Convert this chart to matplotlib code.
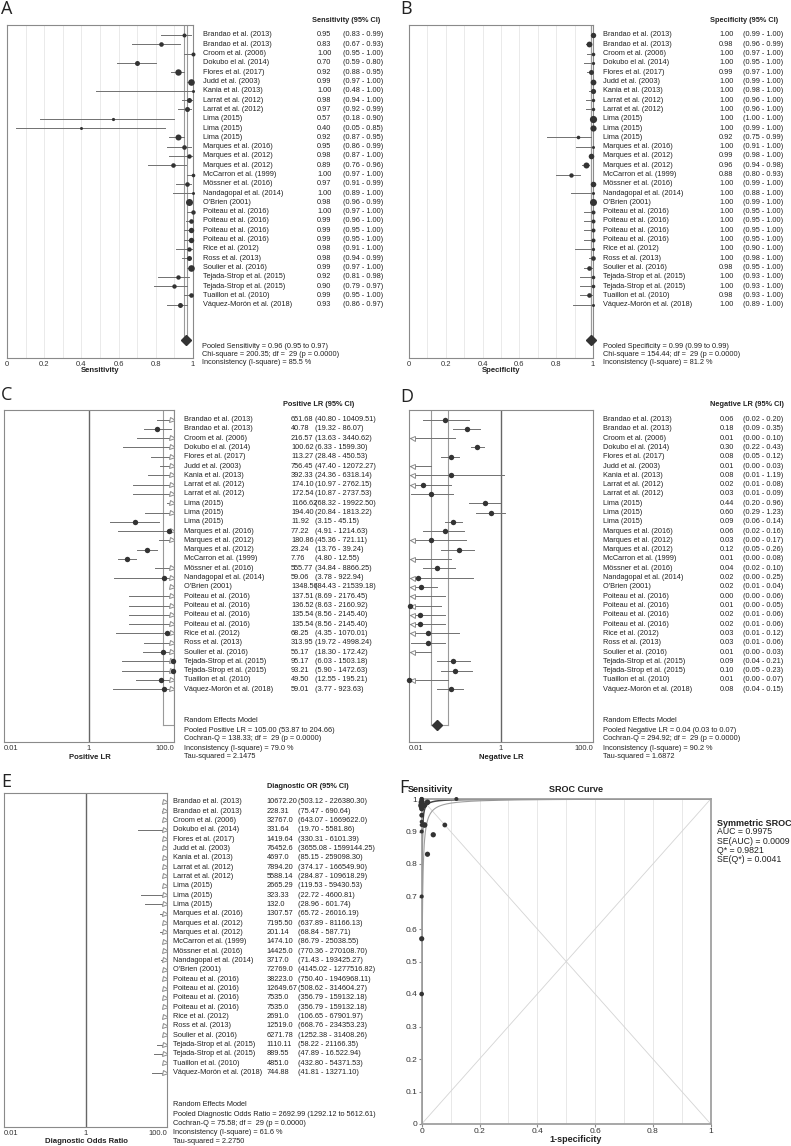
import numpy as np
import matplotlib
matplotlib.use('Agg')
import matplotlib.pyplot as plt
from matplotlib.ticker import NullLocator

plt.rcParams['font.family'] = ['Liberation Sans', 'DejaVu Sans']

#%% data

studies = ['Brandao et al. (2013)', 'Brandao et al. (2013)', 'Croom et al. (2006)',
           'Dokubo el al. (2014)', 'Flores et al. (2017)', 'Judd et al. (2003)',
           'Kania et al. (2013)', 'Larrat et al. (2012)', 'Larrat et al. (2012)',
           'Lima (2015)', 'Lima (2015)', 'Lima (2015)', 'Marques et al. (2016)',
           'Marques et al. (2012)', 'Marques et al. (2012)', 'McCarron et al. (1999)',
           'Mössner et al. (2016)', 'Nandagopal et al. (2014)', "O'Brien (2001)",
           'Poiteau et al. (2016)', 'Poiteau et al. (2016)', 'Poiteau et al. (2016)',
           'Poiteau et al. (2016)', 'Rice et al. (2012)', 'Ross et al. (2013)',
           'Soulier et al. (2016)', 'Tejada-Strop et al. (2015)',
           'Tejada-Strop et al. (2015)', 'Tuaillon et al. (2010)',
           'Váquez-Morón et al. (2018)']

sens = [0.95, 0.83, 1.00, 0.70, 0.92, 0.99, 1.00, 0.98, 0.97, 0.57, 0.40, 0.92, 0.95, 0.98, 0.89,
        1.00, 0.97, 1.00, 0.98, 1.00, 0.99, 0.99, 0.99, 0.98, 0.98, 0.99, 0.92, 0.90, 0.99, 0.93]
sens_lo = [0.83, 0.67, 0.95, 0.59, 0.88, 0.97, 0.48, 0.94, 0.92, 0.18, 0.05, 0.87, 0.86, 0.87, 0.76,
           0.97, 0.91, 0.89, 0.96, 0.97, 0.96, 0.95, 0.95, 0.91, 0.94, 0.97, 0.81, 0.79, 0.95, 0.86]
sens_hi = [0.99, 0.93, 1.00, 0.80, 0.95, 1.00, 1.00, 1.00, 0.99, 0.90, 0.85, 0.95, 0.99, 1.00, 0.96,
           1.00, 0.99, 1.00, 0.99, 1.00, 1.00, 1.00, 1.00, 1.00, 0.99, 1.00, 0.98, 0.97, 1.00, 0.97]

spec = [1.00, 0.98, 1.00, 1.00, 0.99, 1.00, 1.00, 1.00, 1.00, 1.00, 1.00, 0.92, 1.00, 0.99, 0.96,
        0.88, 1.00, 1.00, 1.00, 1.00, 1.00, 1.00, 1.00, 1.00, 1.00, 0.98, 1.00, 1.00, 0.98, 1.00]
spec_lo = [0.99, 0.96, 0.97, 0.95, 0.97, 0.99, 0.98, 0.96, 0.96, 1.00, 0.99, 0.75, 0.91, 0.98, 0.94,
           0.80, 0.99, 0.88, 0.99, 0.95, 0.95, 0.95, 0.95, 0.90, 0.98, 0.95, 0.93, 0.93, 0.93, 0.89]
spec_hi = [1.00, 0.99, 1.00, 1.00, 1.00, 1.00, 1.00, 1.00, 1.00, 1.00, 1.00, 0.99, 1.00, 1.00, 0.98,
           0.93, 1.00, 1.00, 1.00, 1.00, 1.00, 1.00, 1.00, 1.00, 1.00, 1.00, 1.00, 1.00, 1.00, 1.00]

plr = [651.68, 40.78, 216.57, 100.62, 113.27, 756.45, 392.33, 174.10, 172.54, 1166.62, 194.40,
       11.92, 77.22, 180.86, 23.24, 7.76, 555.77, 59.06, 1348.56, 137.51, 136.52, 135.54, 135.54,
       68.25, 313.95, 56.17, 95.17, 93.21, 49.50, 59.01]
plr_lo = [40.80, 19.32, 13.63, 6.33, 28.48, 47.40, 24.36, 10.97, 10.87, 68.32, 20.84, 3.15, 4.91,
          45.36, 13.76, 4.80, 34.84, 3.78, 84.43, 8.69, 8.63, 8.56, 8.56, 4.35, 19.72, 18.30, 6.03,
          5.90, 12.55, 3.77]
plr_hi = [10409.51, 86.07, 3440.62, 1599.30, 450.53, 12072.27, 6318.14, 2762.15, 2737.53,
          19922.50, 1813.22, 45.15, 1214.63, 721.11, 39.24, 12.55, 8866.25, 922.94, 21539.18,
          2176.45, 2160.92, 2145.40, 2145.40, 1070.01, 4998.24, 172.42, 1503.18, 1472.63, 195.21,
          923.63]

nlr = [0.06, 0.18, 0.008, 0.30, 0.08, 0.007, 0.08, 0.02, 0.03, 0.44, 0.60, 0.09, 0.06, 0.03, 0.12,
       0.008, 0.04, 0.016, 0.018, 0.004, 0.0105, 0.017, 0.017, 0.026, 0.026, 0.008, 0.09, 0.10,
       0.0102, 0.08]
nlr_lo = [0.02, 0.09, 0.004, 0.22, 0.05, 0.004, 0.006, 0.006, 0.011, 0.20, 0.29, 0.06, 0.02, 0.004,
          0.05, 0.004, 0.02, 0.004, 0.007, 0.004, 0.004, 0.007, 0.007, 0.007, 0.011, 0.004, 0.04,
          0.05, 0.004, 0.04]
nlr_hi = [0.20, 0.35, 0.10, 0.43, 0.12, 0.03, 1.19, 0.08, 0.09, 0.96, 1.23, 0.14, 0.16, 0.17, 0.26,
          0.08, 0.10, 0.25, 0.04, 0.06, 0.05, 0.06, 0.06, 0.12, 0.06, 0.03, 0.21, 0.23, 0.07, 0.15]

dor_txt = ['10672.20', '228.31', '32767.0', '331.64', '1419.64', '76452.6', '4697.0', '7894.20',
           '5588.14', '2665.29', '323.33', '132.0', '1307.57', '7195.50', '201.14', '1474.10',
           '14425.0', '3717.0', '72769.0', '38223.0', '12649.67', '7535.0', '7535.0', '2691.0',
           '12519.0', '6271.78', '1110.11', '889.55', '4851.0', '744.88']
dor_ci_txt = ['(503.12 - 226380.30)', '(75.47 - 690.64)', '(643.07 - 1669622.0)',
              '(19.70 - 5581.86)', '(330.31 - 6101.39)', '(3655.08 - 1599144.25)',
              '(85.15 - 259098.30)', '(374.17 - 166549.90)', '(284.87 - 109618.29)',
              '(119.53 - 59430.53)', '(22.72 - 4600.81)', '(28.96 - 601.74)',
              '(65.72 - 26016.19)', '(637.89 - 81166.13)', '(68.84 - 587.71)',
              '(86.79 - 25038.55)', '(770.36 - 270108.70)', '(71.43 - 193425.27)',
              '(4145.02 - 1277516.82)', '(750.40 - 1946968.11)', '(508.62 - 314604.27)',
              '(356.79 - 159132.18)', '(356.79 - 159132.18)', '(106.65 - 67901.97)',
              '(668.76 - 234353.23)', '(1252.38 - 31408.26)', '(58.22 - 21166.35)',
              '(47.89 - 16.522.94)', '(432.80 - 54371.53)', '(41.81 - 13271.10)']
dor_lo = [503.12, 75.47, 643.07, 19.70, 330.31, 3655.08, 85.15, 374.17, 284.87, 119.53, 22.72,
          28.96, 65.72, 637.89, 68.84, 86.79, 770.36, 71.43, 4145.02, 750.40, 508.62, 356.79,
          356.79, 106.65, 668.76, 1252.38, 58.22, 47.89, 432.80, 41.81]
dor_hi = [226380.30, 690.64, 1669622.0, 5581.86, 6101.39, 1599144.25, 259098.30, 166549.90,
          109618.29, 59430.53, 4600.81, 601.74, 26016.19, 81166.13, 587.71, 25038.55, 270108.70,
          193425.27, 1277516.82, 1946968.11, 314604.27, 159132.18, 159132.18, 67901.97, 234353.23,
          31408.26, 21166.35, 16522.94, 54371.53, 13271.10]

pool_sens = [0.96, 0.95, 0.97]
pool_spec = [0.99, 0.99, 0.99]
pool_plr = [105.00, 53.87, 204.66]
pool_nlr = [0.04, 0.03, 0.07]
pool_dor = [2692.99, 1292.12, 5612.61]

stats_sens = ['Pooled Sensitivity = 0.96 (0.95 to 0.97)',
              'Chi-square = 200.35; df =  29 (p = 0.0000)',
              'Inconsistency (I-square) = 85.5 %']
stats_spec = ['Pooled Specificity = 0.99 (0.99 to 0.99)',
              'Chi-square = 154.44; df =  29 (p = 0.0000)',
              'Inconsistency (I-square) = 81.2 %']
stats_plr = ['Random Effects Model', 'Pooled Positive LR = 105.00 (53.87 to 204.66)',
             'Cochran-Q = 138.33; df =  29 (p = 0.0000)', 'Inconsistency (I-square) = 79.0 %',
             'Tau-squared = 2.1475']
stats_nlr = ['Random Effects Model', 'Pooled Negative LR = 0.04 (0.03 to 0.07)',
             'Cochran-Q = 294.92; df =  29 (p = 0.0000)', 'Inconsistency (I-square) = 90.2 %',
             'Tau-squared = 1.6872']
stats_dor = ['Random Effects Model',
             'Pooled Diagnostic Odds Ratio = 2692.99 (1292.12 to 5612.61)',
             'Cochran-Q = 75.58; df =  29 (p = 0.0000)', 'Inconsistency (I-square) = 61.6 %',
             'Tau-squared = 2.2750']

q_star = 0.9821
band_dor = 690
sroc_txt = ['AUC = 0.9975', 'SE(AUC) = 0.0009', 'Q* = 0.9821', 'SE(Q*) = 0.0041']

# dot radii (px)
sens_r = [2.0, 2.3, 2.0, 2.5, 3.2, 3.3, 1.5, 2.5, 2.5, 1.6, 1.5, 3.0, 2.3, 2.2, 2.3,
          1.8, 2.3, 1.5, 3.5, 2.2, 2.3, 2.7, 2.7, 2.2, 2.5, 3.3, 2.2, 2.2, 2.3, 2.5]
spec_r = [2.7, 2.9, 1.8, 1.6, 2.5, 2.9, 2.6, 1.7, 1.7, 3.6, 3.1, 1.8, 1.5, 2.8, 3.0,
          2.2, 2.8, 1.5, 3.5, 2.0, 2.0, 2.0, 2.0, 1.6, 2.3, 2.3, 1.8, 1.8, 2.3, 1.5]

#%% figure

W, H = 791, 1146
fig = plt.figure(figsize=(W / 100, H / 100), dpi=100)
TXT = '#222222'
FS = 5.3


def px_axes(x0, y0, x1, y1):
    return fig.add_axes([x0 / W, 1 - y1 / H, (x1 - x0) / W, (y1 - y0) / H])


def ftext(x, y, s, **kw):
    kw.setdefault('fontsize', FS)
    kw.setdefault('va', 'center')
    kw.setdefault('color', TXT)
    fig.text(x / W, 1 - y / H, s, **kw)


def forest(x0, x1, top, bottom, row0, sp, est, lo, hi, lim, logx, radius, pooled):
    ax = px_axes(x0, top, x1, bottom)
    ytop = (top - row0) / sp
    ax.set_ylim((bottom - row0) / sp, ytop)
    xmin, xmax = lim
    if logx:
        ax.set_xscale('log')
    ax.set_xlim(xmin, xmax)
    for s in ax.spines.values():
        s.set_color('#8a8a8a')
        s.set_linewidth(0.8)
    ax.set_yticks([])
    n = len(est)
    for i in range(n):
        a = max(lo[i], xmin)
        b = min(hi[i], xmax)
        if a < b:
            ax.plot([a, b], [i, i], color='#707070', lw=0.7, zorder=2)
        if xmin <= est[i] <= xmax:
            r = radius[i] if np.ndim(radius) else radius
            ax.plot(est[i], i, 'o', ms=2 * r * 0.72, color='#333333', mec='none',
                    zorder=4, clip_on=False)
        if logx and hi[i] > xmax:
            ax.plot(xmax / 10 ** 0.055, i, '>', ms=3.6, mfc='white', mec='#8a8a8a',
                    mew=0.7, zorder=3)
        if logx and lo[i] < xmin:
            ax.plot(xmin * 10 ** 0.055, i, '<', ms=3.6, mfc='white', mec='#8a8a8a',
                    mew=0.7, zorder=3)
    # pooled box and diamond
    prow = 32.8
    p_est, p_lo, p_hi = pooled
    a = max(p_lo, xmin)
    b = min(p_hi, xmax)
    if a <= b:
        for v in (a, b):
            ax.plot([v, v], [ytop, prow], color='#9a9a9a', lw=0.8, zorder=1)
        ax.plot([a, b], [prow, prow], color='#9a9a9a', lw=0.8, zorder=1)
    if xmin <= p_est <= xmax:
        ax.plot(p_est, prow, 'D', ms=4.8, color='#333333', zorder=5, clip_on=False)
    if logx:
        ax.axvline(1, color='#666666', lw=1.0, zorder=1)
        ax.xaxis.set_minor_locator(NullLocator())
        ax.set_xticks([0.01, 1, 100])
        labs = ax.set_xticklabels(['0.01', '1', '100.0'])
        labs[0].set_ha('left')
        labs[2].set_ha('right')
    else:
        for v in np.arange(0.1, 1.0, 0.1):
            ax.axvline(v, color='#e6e6e6', lw=0.6, zorder=0)
        ax.set_xticks([0, 0.2, 0.4, 0.6, 0.8, 1])
        ax.set_xticklabels(['0', '0.2', '0.4', '0.6', '0.8', '1'])
    ax.tick_params(axis='x', length=0, pad=2, labelsize=5.5, labelcolor='#333333')
    return ax


def table(row0, sp, cols, names, est_txt, ci_txt, header, hdr_x):
    ftext(hdr_x, row0 - 15, header, weight='bold')
    for i in range(len(names)):
        y = row0 + i * sp
        ftext(cols[0], y, names[i])
        ftext(cols[1], y, est_txt[i])
        ftext(cols[2], y, ci_txt[i])


def f2(v):
    return ['%.2f' % x for x in v]


def ci2(lo, hi):
    return ['(%.2f - %.2f)' % (a, b) for a, b in zip(lo, hi)]


# A: sensitivity
forest(7, 193, 25, 358, 35, 9.3, sens, sens_lo, sens_hi, (0, 1), False, sens_r, pool_sens)
table(35, 9.3, (203, 317, 343), studies, f2(sens), ci2(sens_lo, sens_hi),
      'Sensitivity (95% CI)', 312)
for k, s in enumerate(stats_sens):
    ftext(202, 346.7 + 7.8 * k, s)
ftext(100, 371, 'Sensitivity', weight='bold', ha='center', fontsize=5.6)

# B: specificity
forest(409, 593, 25, 358, 35, 9.3, spec, spec_lo, spec_hi, (0, 1), False, spec_r, pool_spec)
table(35, 9.3, (603, 719, 743), studies, f2(spec), ci2(spec_lo, spec_hi),
      'Specificity (95% CI)', 710)
for k, s in enumerate(stats_spec):
    ftext(603, 346.7 + 7.8 * k, s)
ftext(501, 371, 'Specificity', weight='bold', ha='center', fontsize=5.6)

# C: positive LR
forest(4, 174, 410, 742, 419.5, 9.3, plr, plr_lo, plr_hi, (0.01, 100), True, 2.7, pool_plr)
table(419.5, 9.3, (184.3, 291, 315), studies, f2(plr), ci2(plr_lo, plr_hi),
      'Positive LR (95% CI)', 283)
for k, s in enumerate(stats_plr):
    ftext(184.3, 721 + 9 * k, s)
ftext(90, 757.5, 'Positive LR', weight='bold', ha='center', fontsize=5.6)

# D: negative LR
forest(409, 593, 410, 742, 419.5, 9.3, nlr, nlr_lo, nlr_hi, (0.01, 100), True, 2.7, pool_nlr)
table(419.5, 9.3, (603, 720, 743), studies, f2(nlr), ci2(nlr_lo, nlr_hi),
      'Negative LR (95% CI)', 710)
for k, s in enumerate(stats_nlr):
    ftext(603, 721 + 9 * k, s)
ftext(501, 757.5, 'Negative LR', weight='bold', ha='center', fontsize=5.6)

# E: diagnostic OR
dor = [float(s) for s in dor_txt]
forest(4, 167, 793, 1127, 801.7, 9.34, dor, dor_lo, dor_hi, (0.01, 100), True, 2.7, pool_dor)
table(801.7, 9.34, (173.3, 266.7, 297.7), studies, dor_txt, dor_ci_txt,
      'Diagnostic OR (95% CI)', 267)
for k, s in enumerate(stats_dor):
    ftext(173.3, 1105 + 9.2 * k, s)
ftext(86, 1141.5, 'Diagnostic Odds Ratio', weight='bold', ha='center', fontsize=5.6)

# F: SROC
axf = px_axes(421.7, 799, 710.7, 1124)
axf.set_xlim(0, 1)
axf.set_ylim(0, 1)
for v in np.arange(0.1, 1.0, 0.1):
    axf.axvline(v, color='#e4e4e4', lw=0.6, zorder=0)
axf.plot([0, 1], [0, 1], color='#d4d4d4', lw=0.6, zorder=0)
axf.plot([0, 1], [1, 0], color='#d4d4d4', lw=0.6, zorder=0)
fpr = np.concatenate([np.geomspace(1e-8, 0.01, 400), np.linspace(0.01, 1, 400)])
q_dor = (q_star / (1 - q_star)) ** 2
for d, col, lw in [(band_dor, '#a0a0a0', 0.8), (q_dor, '#444444', 1.1)]:
    tpr = d * fpr / (1 - fpr + d * fpr)
    axf.plot(fpr, tpr, color=col, lw=lw, zorder=2)
roc_r = (np.array(sens_r) + np.array(spec_r)) / 2
axf.scatter(1 - np.array(spec), sens, s=(2 * roc_r * 0.72) ** 2,
            color='#333333', edgecolors='none', zorder=4, clip_on=False)
axf.set_xticks([0, 0.2, 0.4, 0.6, 0.8, 1])
axf.set_xticklabels(['0', '0.2', '0.4', '0.6', '0.8', '1'])
axf.set_yticks(np.arange(0, 1.01, 0.1))
axf.set_yticklabels(['0', '0.1', '0.2', '0.3', '0.4', '0.5', '0.6', '0.7', '0.8', '0.9', '1'])
axf.tick_params(labelsize=6, length=2, color='#888888', pad=1, labelcolor='#333333')
for s in axf.spines.values():
    s.set_color('#a0a0a0')
    s.set_linewidth(1.3)
ftext(408, 790, 'Sensitivity', weight='bold', fontsize=6.5)
ftext(576, 790, 'SROC Curve', weight='bold', fontsize=6.5, ha='center')
ftext(576, 1140, '1-specificity', weight='bold', fontsize=6.5, ha='center')
ftext(717, 823, 'Symmetric SROC', weight='bold', fontsize=6.5)
for k, s in enumerate(sroc_txt):
    ftext(717, 832 + 9.2 * k, s, fontsize=6.3)

# panel letters
for lab, x, y in [('A', 1, 9), ('B', 400, 9), ('C', 1, 395), ('D', 400, 397),
                  ('E', 1, 782), ('F', 399, 788)]:
    ftext(x, y, lab, fontsize=13, family=['Open Sans', 'DejaVu Sans'])

fig.savefig('out.png', dpi=100, facecolor='white')
